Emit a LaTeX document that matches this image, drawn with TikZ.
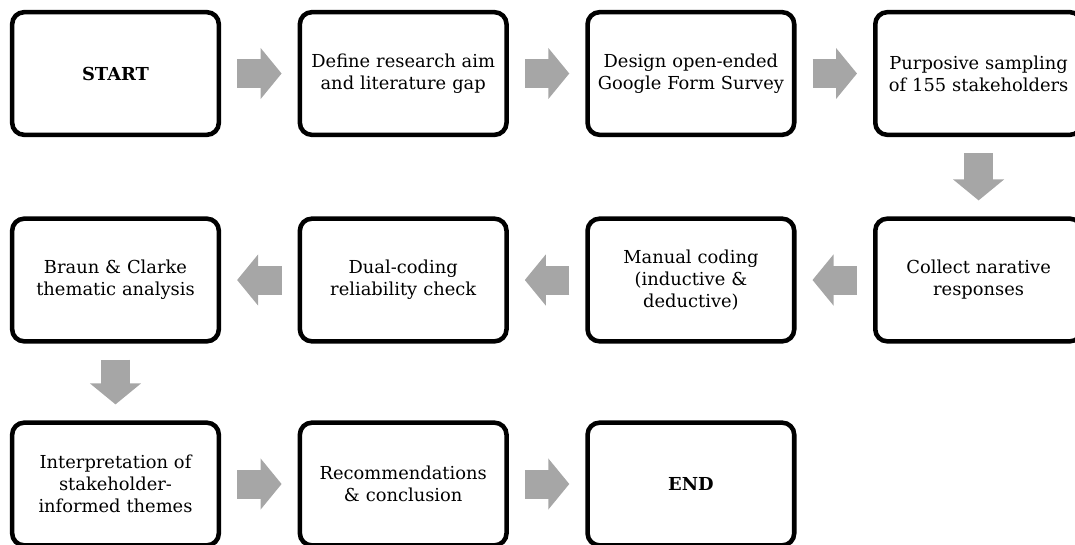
\documentclass[tikz,border=0pt]{standalone}
\usepackage{fontspec}
\setmainfont{DejaVu Serif}
\usetikzlibrary{arrows.meta}
\definecolor{arrowgrey}{HTML}{A6A6A6}
\begin{document}
\begin{tikzpicture}[x=0.75pt,y=-0.75pt,
    stage/.style={draw=black,line width=3.4pt,rounded corners=9pt,
      minimum width=155pt,minimum height=92pt,text width=150pt,
      align=center,inner sep=0pt,font=\fontsize{13.4}{16.5}\selectfont},
    flow/.style={draw=arrowgrey,line width=21.75pt,
      -{Triangle[width=37.5pt,length=15.75pt]},
      shorten >=12pt,shorten <=12pt}]
  \useasboundingbox (0,0) rectangle (1075,544);
  \clip (0,0) rectangle (1075,544);
  % row 1
  \node[stage] (start) at (115.5,73.5) {\textbf{START}};
  \node[stage] (aim) at (403.2,73.5) {Define research aim\\and literature gap};
  \node[stage] (survey) at (690.9,73.5) {Design open-ended\\Google Form Survey};
  \node[stage] (sample) at (978.6,73.5) {Purposive sampling\\of 155 stakeholders};
  % row 2
  \node[stage] (collect) at (978.6,280) {Collect narative\\responses};
  \node[stage] (coding) at (690.9,280) {Manual coding\\(inductive \&\\deductive)};
  \node[stage] (check) at (403.2,280) {Dual-coding\\reliability check};
  \node[stage] (braun) at (115.5,280) {Braun \& Clarke\\thematic analysis};
  % row 3
  \node[stage] (interp) at (115.5,484) {Interpretation of\\stakeholder-\\informed themes};
  \node[stage] (recom) at (403.2,484) {Recommendations\\\& conclusion};
  \node[stage] (end) at (690.9,484) {\textbf{END}};
  % block arrows
  \draw[flow] (start) -- (aim);
  \draw[flow] (aim) -- (survey);
  \draw[flow] (survey) -- (sample);
  \draw[flow] (sample) -- (collect);
  \draw[flow] (collect) -- (coding);
  \draw[flow] (coding) -- (check);
  \draw[flow] (check) -- (braun);
  \draw[flow] (braun) -- (interp);
  \draw[flow] (interp) -- (recom);
  \draw[flow] (recom) -- (end);
\end{tikzpicture}
\end{document}
